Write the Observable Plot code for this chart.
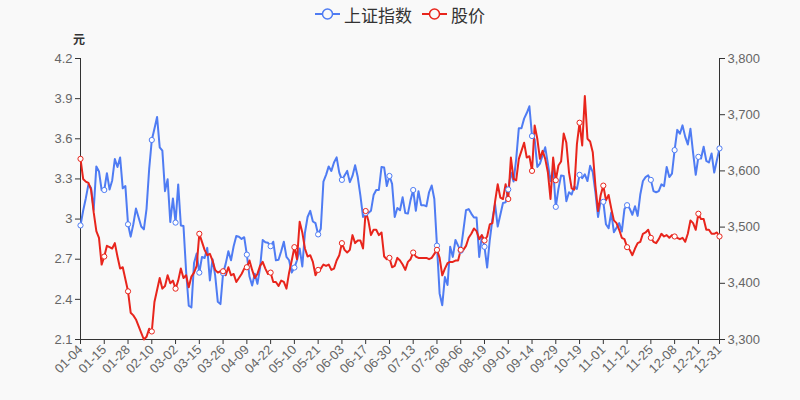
<!DOCTYPE html>
<html>
<head>
<meta charset="utf-8">
<script src="https://cdn.jsdelivr.net/npm/d3@7"></script>
<script src="https://cdn.jsdelivr.net/npm/@observablehq/plot@0.6"></script>
<style>
  html, body { margin: 0; padding: 0; background: #f9f9f9; }
  body { width: 800px; height: 400px; overflow: hidden; font-family: "Noto Sans CJK SC", "Noto Sans", sans-serif; }
  #legend { height: 28px; display: flex; justify-content: center; align-items: center; gap: 10px; font-size: 17px; color: #333; }
  .item { display: flex; align-items: center; gap: 4px; }
  #chart { position: relative; }
  #unit { position: absolute; left: 73px; top: 2px; font-size: 12px; font-weight: bold; color: #333; }
</style>
</head>
<body>
<div id="legend"></div>
<div id="chart"><div id="unit">元</div></div>
<script>
// Trading days of the year: months and their trading days
const months = ["01","02","03","04","05","06","07","08","09","10","11","12"];
const monthDays = [
  [4,5,6,7,8,11,12,13,14,15,18,19,20,21,22,25,26,27,28,29],
  [1,2,3,4,5,8,9,10,18,19,22,23,24,25,26],
  [1,2,3,4,5,8,9,10,11,12,15,16,17,18,19,22,23,24,25,26,29,30,31],
  [1,2,6,7,8,9,12,13,14,15,16,19,20,21,22,23,26,27,28,29,30],
  [6,7,10,11,12,13,14,17,18,19,20,21,24,25,26,27,28,31],
  [1,2,3,4,7,8,9,10,11,15,16,17,18,21,22,23,24,25,28,29,30],
  [1,2,5,6,7,8,9,12,13,14,15,16,19,20,21,22,23,26,27,28,29,30],
  [2,3,4,5,6,9,10,11,12,13,16,17,18,19,20,23,24,25,26,27,30,31],
  [1,2,3,6,7,8,9,10,13,14,15,16,17,22,23,24,27,28,29,30],
  [8,11,12,13,14,15,18,19,20,21,22,25,26,27,28,29],
  [1,2,3,4,5,8,9,10,11,12,15,16,17,18,19,22,23,24,25,26,29,30],
  [1,2,3,6,7,8,9,10,13,14,15,16,17,20,21,22,23,24,27,28,29,30,31]
];

// 上证指数 (right axis)
const sseIndex = [
  3503,3529,3551,3576,3570,3531,3608,3599,3566,3566,3596,3567,3583,3621,3607,3624,3569,3573,3505,3483,
  3505,3533,3517,3501,3496,3532,3603,3655,3675,3696,3642,3636,3564,3585,3509,
  3551,3508,3576,3503,3502,3421,3360,3357,3436,3453,3419,3447,3445,3463,3405,3443,3414,3367,3363,3418,3435,3457,3441,
  3466,3484,3483,3479,3482,3451,3412,3396,3417,3399,3427,3477,3473,3472,3466,3474,3441,3442,3457,3474,3447,
  3441,3419,3428,3441,3462,3430,3490,3518,3529,3510,3507,3487,3497,3581,3593,3608,3600,3615,
  3624,3597,3584,3592,3600,3580,3591,3610,3589,3556,3518,3525,3525,3529,3557,3566,3566,3607,3606,3573,3591,
  3577,3518,3534,3530,3553,3525,3524,3548,3566,3529,3564,3539,3539,3537,3562,3574,3550,3467,3382,3361,3411,3397,
  3465,3447,3477,3467,3458,3494,3530,3532,3524,3517,3517,3447,3485,3465,3428,3477,3514,3541,3501,3522,3543,3544,
  3567,3597,3581,3621,3676,3676,3693,3703,3715,3662,3656,3607,3613,3628,3642,3613,3582,3602,3536,3568,
  3592,3591,3546,3562,3558,3572,3568,3593,3587,3594,3582,3609,3598,3562,3518,3547,
  3545,3505,3498,3526,3491,3499,3507,3492,3532,3539,3533,3522,3537,3520,3558,3582,3589,3592,3584,3564,3562,3564,
  3576,3573,3607,3589,3595,3637,3673,3666,3681,3661,3647,3675,3632,3593,3625,3622,3643,3618,3615,3631,3597,3619,3640
];

// 股价 (left axis, 元)
const stockPrice = [
  3.45,3.30,3.28,3.27,3.22,3.05,2.91,2.86,2.66,2.72,
  2.80,2.79,2.78,2.82,2.72,2.63,2.64,2.55,2.46,2.30,
  2.28,2.25,2.20,2.15,2.10,2.12,2.18,2.16,2.38,2.47,
  2.56,2.48,2.50,2.58,2.52,2.54,2.48,2.54,2.63,2.56,
  2.58,2.49,2.57,2.60,2.65,2.89,2.83,2.77,2.73,2.74,
  2.69,2.62,2.60,2.61,2.61,2.58,2.64,2.58,2.59,2.53,
  2.56,2.59,2.63,2.64,2.69,2.62,2.56,2.59,2.65,2.68,
  2.63,2.59,2.60,2.53,2.53,2.50,2.54,2.53,2.48,2.60,
  2.69,2.79,2.70,2.98,2.90,2.78,2.72,2.73,2.68,2.58,
  2.62,2.63,2.66,2.65,2.66,2.62,2.63,2.69,2.73,2.82,
  2.77,2.75,2.77,2.88,2.82,2.84,2.84,2.78,3.06,2.99,
  2.88,2.92,2.92,2.88,2.90,2.72,2.70,2.71,2.64,2.65,
  2.71,2.69,2.66,2.62,2.68,2.70,2.75,2.72,2.71,2.71,
  2.71,2.71,2.70,2.71,2.74,2.77,2.71,2.58,2.63,2.67,
  2.68,2.68,2.69,2.69,2.77,2.77,2.80,2.86,2.89,2.93,
  2.91,2.85,2.88,2.84,2.87,2.96,2.97,3.13,3.26,3.16,
  3.15,3.26,3.15,3.46,3.30,3.29,3.45,3.51,3.57,3.46,
  3.47,3.36,3.70,3.60,3.45,3.51,3.45,3.35,3.15,3.46,
  3.29,3.40,3.43,3.64,3.57,3.35,3.23,3.22,3.56,3.72,
  3.55,3.92,3.60,3.58,3.50,3.25,3.06,3.18,3.25,3.14,
  3.18,3.08,2.99,2.97,2.92,2.86,2.85,2.79,2.77,2.73,
  2.78,2.82,2.83,2.89,2.90,2.92,2.86,2.83,2.82,2.85,
  2.89,2.87,2.88,2.86,2.88,2.87,2.86,2.85,2.86,2.83,
  2.89,2.99,2.97,2.92,3.04,3.00,3.00,2.92,2.92,2.89,
  2.89,2.90,2.87
];

// Axis ticks
const leftTicks = [2.1, 2.4, 2.7, 3, 3.3, 3.6, 3.9, 4.2];
const rightTicks = [3300, 3400, 3500, 3600, 3700, 3800];
const xLabelDates = ["01-04","01-15","01-28","02-10","03-02","03-15","03-26","04-09","04-22","05-10","05-21","06-03","06-17","06-30","07-13","07-26","08-06","08-19","09-01","09-14","09-29","10-19","11-01","11-12","11-25","12-08","12-21","12-31"];

const seriesNames = ["上证指数", "股价"];
const colors = ["#4f7cf3", "#e8251c"];

// build table
const dates = [];
months.forEach((m, k) => monthDays[k].forEach(d => dates.push(m + "-" + String(d).padStart(2, "0"))));
const rows = dates.map((date, i) => ({ i, date, sse: sseIndex[i], price: stockPrice[i] }));
const labelIdx = xLabelDates.map(s => dates.indexOf(s));
const labelSet = new Set(labelIdx);
const marked = rows.filter(r => labelSet.has(r.i));

// map right axis onto left domain
const L0 = 2.1, L1 = 4.2, R0 = 3300, R1 = 3800;
const toLeft = v => L0 + (v - R0) / (R1 - R0) * (L1 - L0);
const fromLeft = v => R0 + (v - L0) / (L1 - L0) * (R1 - R0);

// legend
const legend = document.getElementById("legend");
seriesNames.forEach((name, k) => {
  const it = document.createElement("div");
  it.className = "item";
  it.innerHTML = `<svg width="25" height="14"><line x1="0" y1="7" x2="25" y2="7" stroke="${colors[k]}" stroke-width="2"/><circle cx="12.5" cy="7" r="5" fill="#f9f9f9" stroke="${colors[k]}" stroke-width="1.5"/></svg><span>${name}</span>`;
  legend.appendChild(it);
});

const axisStyle = { tickSize: 5, tickPadding: 3, label: null, stroke: "#333", fill: "#666" };
const plot = Plot.plot({
  width: 800,
  height: 372,
  marginTop: 30,
  marginBottom: 61,
  marginLeft: 80,
  marginRight: 81,
  style: { background: "transparent", fontSize: "13px", fontFamily: "\"Liberation Sans\", Arial, sans-serif" },
  x: { type: "linear", domain: [0, dates.length - 1] },
  y: { domain: [L0, L1] },
  marks: [
    Plot.axisX({ ...axisStyle, ticks: labelIdx, tickFormat: i => dates[i], tickRotate: -45 }),
    Plot.axisY({ ...axisStyle, ticks: leftTicks, tickFormat: d => String(d) }),
    Plot.axisY({ ...axisStyle, anchor: "right", ticks: rightTicks.map(toLeft), tickFormat: v => d3.format(",")(Math.round(fromLeft(v))) }),
    Plot.ruleX([0], { stroke: "#333" }),
    Plot.ruleX([dates.length - 1], { stroke: "#333" }),
    Plot.ruleY([L0], { stroke: "#333" }),
    Plot.line(rows, { x: "i", y: d => toLeft(d.sse), stroke: colors[0], strokeWidth: 2 }),
    Plot.line(rows, { x: "i", y: "price", stroke: colors[1], strokeWidth: 2 }),
    Plot.dot(marked, { x: "i", y: d => toLeft(d.sse), r: 2.6, fill: "white", stroke: colors[0], strokeWidth: 1 }),
    Plot.dot(marked, { x: "i", y: "price", r: 2.6, fill: "white", stroke: colors[1], strokeWidth: 1 })
  ]
});
document.getElementById("chart").appendChild(plot);
</script>
</body>
</html>
